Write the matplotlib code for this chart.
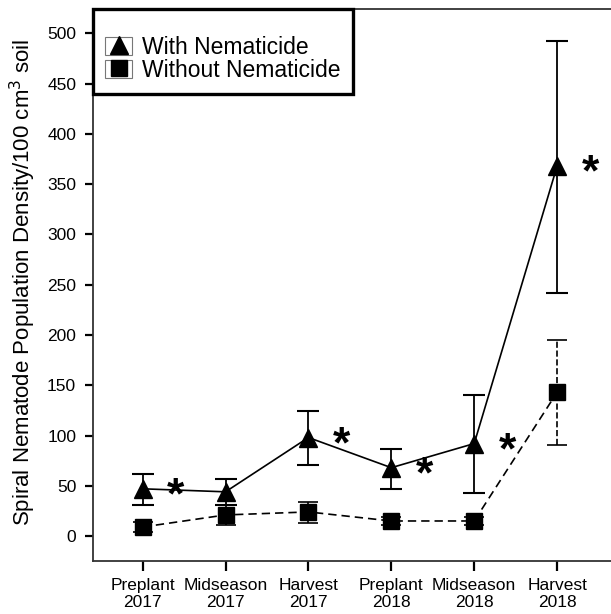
import matplotlib.pyplot as plt
from matplotlib.lines import Line2D
from matplotlib.patches import Rectangle
from matplotlib.legend_handler import HandlerLine2D

plt.rcParams['font.family'] = ['Liberation Sans', 'DejaVu Sans']

# sampling dates
dates = ["Preplant\n2017", "Midseason\n2017", "Harvest\n2017",
         "Preplant\n2018", "Midseason\n2018", "Harvest\n2018"]

# with nematicide: mean, upper and lower error
with_mean = [47, 44, 98, 68, 92, 368]
with_hi = [62, 57, 124, 87, 140, 492]
with_lo = [31, 31, 71, 47, 43, 242]

# without nematicide
without_mean = [9, 21, 24, 15, 15, 143]
without_hi = [14, 31, 34, 19, 19, 195]
without_lo = [4, 11, 13, 11, 11, 91]

# dates where the difference is significant
sig_idx = [0, 2, 3, 4, 5]

x = list(range(len(dates)))


class BoxedHandler(HandlerLine2D):
    """legend marker with a thin box around it"""

    def create_artists(self, legend, orig_handle, xdescent, ydescent,
                       width, height, fontsize, trans):
        arts = super().create_artists(legend, orig_handle, xdescent, ydescent,
                                      width, height, fontsize, trans)
        box = Rectangle((-xdescent, -ydescent), width, height, fill=False,
                        ec='#777777', lw=0.8, transform=trans)
        return [box] + list(arts)


fig = plt.figure(figsize=(6.11, 6.14), dpi=100)
ax = fig.add_axes([0.152, 0.086, 0.848, 0.899])

# without nematicide (dashed)
w_err = [[m - l for m, l in zip(without_mean, without_lo)],
         [h - m for m, h in zip(without_mean, without_hi)]]
eb = ax.errorbar(x, without_mean, yerr=w_err, color='black', ls='--', lw=1.2,
                 marker='s', ms=11, capsize=7, capthick=1.2, elinewidth=1.2,
                 dashes=(5, 3), zorder=3)
for bar in eb[2]:
    bar.set_linestyle('--')

# with nematicide (solid)
n_err = [[m - l for m, l in zip(with_mean, with_lo)],
         [h - m for m, h in zip(with_mean, with_hi)]]
ax.errorbar(x, with_mean, yerr=n_err, color='black', ls='-', lw=1.2,
            marker='^', ms=13, capsize=8, capthick=1.5, elinewidth=1.3, zorder=4)

for i in sig_idx:
    ax.text(x[i] + 0.4, with_mean[i] - 8, "*", fontsize=32, fontweight='bold',
            ha='center', va='center')

ax.set_xlim(-0.6, 5.65)
ax.set_ylim(-25, 524)
ax.set_yticks(range(0, 501, 50))
ax.set_xticks(x)
ax.set_xticklabels(dates, fontsize=12.5, linespacing=1.15)
ax.tick_params(axis='y', labelsize=12.5, direction='out', length=6, width=1.6, pad=6)
ax.tick_params(axis='x', direction='out', length=7, width=1.6, pad=5)
ax.spines['right'].set_visible(False)
for s in ['left', 'bottom', 'top']:
    ax.spines[s].set_linewidth(1.3)
    ax.spines[s].set_color('#333333')

ax.set_ylabel("Spiral Nematode Population Density/100 cm$^3$ soil", fontsize=16,
              labelpad=7)
ax.yaxis.set_label_coords(-0.105, 0.505)

handles = [Line2D([], [], color='black', marker='^', ms=13, ls='None'),
           Line2D([], [], color='black', marker='s', ms=11, ls='None')]
leg = ax.legend(handles, ["With Nematicide", "Without Nematicide"],
                handler_map={Line2D: BoxedHandler()},
                loc='upper left', bbox_to_anchor=(0, 1), borderaxespad=0,
                fontsize=16.5, frameon=True, fancybox=False, framealpha=1,
                handletextpad=0.45, borderpad=0.55, handlelength=1.15,
                handleheight=0.85, labelspacing=0.0,
                title=" ", title_fontsize=10)
leg.get_frame().set_edgecolor('black')
leg.get_frame().set_linewidth(2.4)

fig.savefig("out.png", dpi=100)
